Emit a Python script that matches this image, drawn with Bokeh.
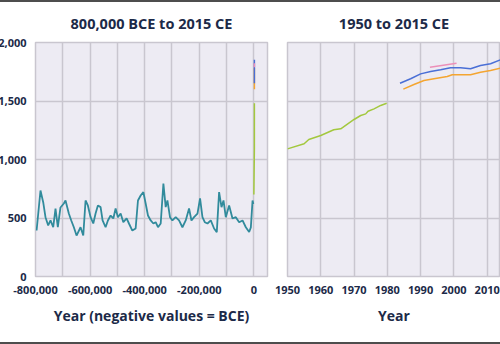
from bokeh.plotting import figure
from bokeh.layouts import row, column
from bokeh.models import FixedTicker, NumeralTickFormatter, Spacer
from bokeh.embed import file_html
from bokeh.resources import INLINE

# Ice-core methane record (ppb), 800,000 BCE to pre-industrial
ice_years = [-796000, -781700, -771800, -763400, -753500, -745000, -735100, -726700, -718200,
             -708500, -696200, -690000, -677900, -669000, -659500, -649600, -635000, -625000,
             -616600, -608100, -598200, -588300, -579900, -571400, -561500, -554200, -543200,
             -534700, -524800, -514900, -506500, -498000, -488100, -478200, -466100, -457600,
             -445200, -433100, -424600, -414700, -404800, -396400, -387900, -378000, -368100,
             -359700, -351200, -341300, -331400, -323000, -316700, -307200, -298400, -286300,
             -274100, -261700, -249600, -237400, -228600, -219100, -206600, -197100, -188300,
             -179800, -169900, -157800, -145700, -135800, -127300, -118500, -111200, -102800,
             -90600, -78200, -66100, -53900, -41500, -29400, -17200, -11000, -4800, -2000]
ice_ppb = [393, 735, 635, 507, 436, 479, 421, 581, 421,
           590, 624, 650, 538, 479, 421, 350, 421, 350,
           650, 607, 507, 453, 538, 607, 593, 479, 421,
           479, 521, 496, 581, 507, 538, 464, 496, 453,
           393, 410, 650, 692, 721, 624, 521, 479, 453,
           464, 421, 453, 795, 593, 650, 507, 479, 507,
           479, 421, 479, 581, 479, 507, 538, 667, 507,
           464, 453, 479, 410, 379, 721, 593, 650, 507,
           607, 496, 507, 464, 479, 421, 380, 420, 650, 620]

# Green series (ice/firn record up to 1980)
green_years = [0, 1950, 1955, 1956.4, 1960, 1963.9, 1966, 1970, 1972, 1973.5, 1974.2, 1976, 1978, 1979.8]
green_ppb = [700, 1091, 1134, 1171, 1205, 1254, 1262, 1342, 1376, 1390, 1413, 1433, 1462, 1481]

# Blue series
blue_years = [1983.8, 1987, 1990, 1993, 1996, 1999, 2002, 2005, 2008, 2011, 2014]
blue_ppb = [1652, 1690, 1732, 1752, 1767, 1784, 1784, 1775, 1803, 1818, 1852]

# Orange series
orange_years = [1984.8, 1988, 1991, 1994, 1998, 1999.5, 2005, 2008, 2011, 2014]
orange_ppb = [1601, 1641, 1675, 1690, 1709, 1724, 1724, 1746, 1761, 1781]

# Pink series
pink_years = [1992.8, 2000.8]
pink_ppb = [1789, 1823]

left_title = "800,000 BCE to 2015 CE"
right_title = "1950 to 2015 CE"
left_xlabel = "Year (negative values = BCE)"
right_xlabel = "Year"
y_ticks = [0, 500, 1000, 1500, 2000]
left_x_labels = [-800000, -600000, -400000, -200000, 0]
left_x_grid = [-800000, -700000, -600000, -500000, -400000, -300000, -200000, -100000, 0]
right_x_ticks = [1950, 1960, 1970, 1980, 1990, 2000, 2010]

BG = "#edebf3"
GRID = "#c9c6cf"
TXT = "#1c2a48"
FONT = "Open Sans"
TEAL = "#318b9c"
GREEN = "#a3c83e"
BLUE = "#4a6fd6"
ORANGE = "#f4a531"
PINK = "#ec8fb8"

H = 340


def style(p, xlabel):
    p.background_fill_color = BG
    p.border_fill_color = "white"
    p.outline_line_color = GRID
    p.outline_line_width = 1.5
    p.title.text_font = FONT
    p.title.text_font_size = "14.5px"
    p.title.text_font_style = "bold"
    p.title.text_color = TXT
    p.title.align = "center"
    p.title.standoff = 19
    p.xgrid.grid_line_color = GRID
    p.ygrid.grid_line_color = GRID
    p.xgrid.grid_line_width = 1.5
    p.ygrid.grid_line_width = 1.5
    p.ygrid.ticker = FixedTicker(ticks=y_ticks)
    for ax in (p.xaxis[0], p.yaxis[0]):
        ax.axis_line_color = None
        ax.major_tick_line_color = None
        ax.minor_tick_line_color = None
        ax.major_tick_out = 0
        ax.major_tick_in = 0
        ax.major_label_text_font = FONT
        ax.major_label_text_font_size = "11px"
        ax.major_label_text_font_style = "bold"
        ax.major_label_text_color = TXT
    p.xaxis.axis_label = xlabel
    p.xaxis.axis_label_text_font = FONT
    p.xaxis.axis_label_text_font_size = "14px"
    p.xaxis.axis_label_text_font_style = "bold"
    p.xaxis.axis_label_text_color = TXT
    p.xaxis.axis_label_standoff = 9
    p.xaxis.major_label_standoff = 9
    p.yaxis.major_label_standoff = 9
    p.yaxis.ticker = FixedTicker(ticks=y_ticks)
    p.yaxis.formatter = NumeralTickFormatter(format="0,0")


p1 = figure(width=278, height=H, x_range=(-800000, 50000), y_range=(0, 2000),
            title=left_title, output_backend="svg", toolbar_location=None,
            min_border_left=41, min_border_right=5, min_border_top=40, min_border_bottom=66,
            margin=(0, 0, 0, -6))
style(p1, left_xlabel)
p1.xaxis.ticker = FixedTicker(ticks=left_x_labels)
p1.xaxis.formatter = NumeralTickFormatter(format="0,0")
p1.xgrid.ticker = FixedTicker(ticks=left_x_grid)
p1.line(ice_years, ice_ppb, line_color=TEAL, line_width=1.8)
p1.line(green_years, green_ppb, line_color=GREEN, line_width=1.5)
p1.line(orange_years, orange_ppb, line_color=ORANGE, line_width=1.5)
p1.line(blue_years, blue_ppb, line_color=BLUE, line_width=1.5)
p1.line(pink_years, pink_ppb, line_color=PINK, line_width=1.5)

p2 = figure(width=228, height=H, x_range=(1950, 2014), y_range=(0, 2000),
            title=right_title, output_backend="svg", toolbar_location=None,
            min_border_left=15, min_border_right=0, min_border_top=40, min_border_bottom=66)
style(p2, right_xlabel)
p2.yaxis.visible = False
p2.xaxis.ticker = FixedTicker(ticks=right_x_ticks)
p2.xgrid.ticker = FixedTicker(ticks=right_x_ticks)
p2.line(green_years[1:], green_ppb[1:], line_color=GREEN, line_width=1.5)
p2.line(orange_years, orange_ppb, line_color=ORANGE, line_width=1.5)
p2.line(blue_years, blue_ppb, line_color=BLUE, line_width=1.5)
p2.line(pink_years, pink_ppb, line_color=PINK, line_width=1.5)

top = Spacer(width=500, height=2, styles={"background-color": "#4d4d4d"})
bottom = Spacer(width=500, height=2, styles={"background-color": "#4d4d4d"})
layout = column(top, row(p1, p2), bottom)

open("out.html", "w").write(file_html(layout, INLINE))
